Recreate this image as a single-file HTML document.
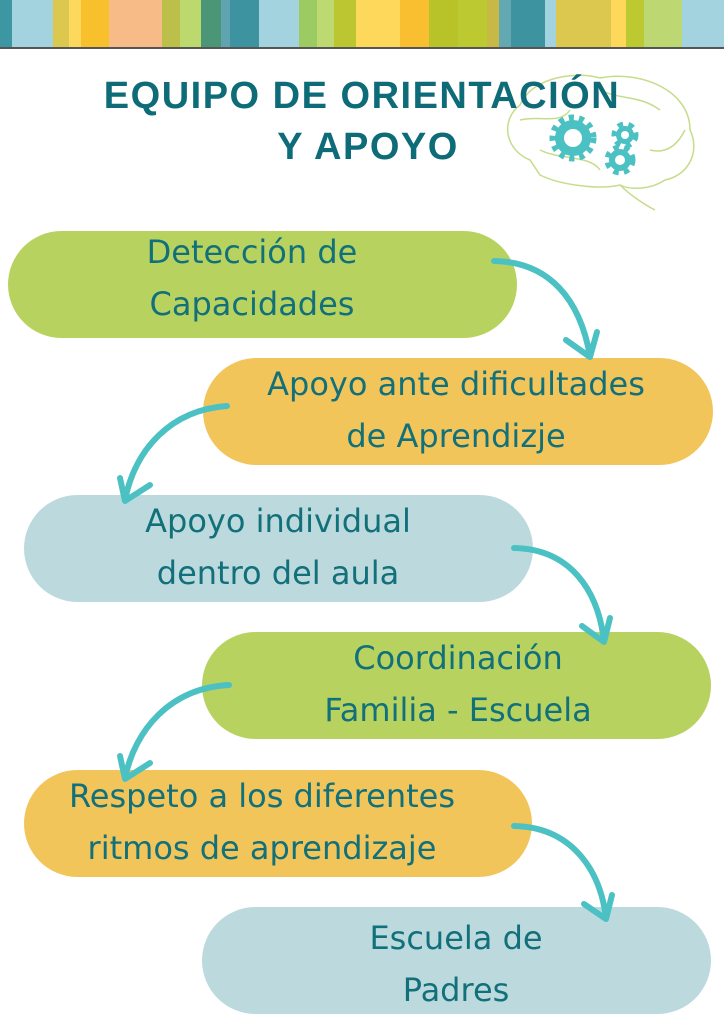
<!DOCTYPE html>
<html><head><meta charset="utf-8"><style>
html,body{margin:0;padding:0;background:#fff;}
body{width:724px;height:1024px;position:relative;overflow:hidden;font-family:"Liberation Sans",sans-serif;}
.pill{position:absolute;height:107px;border-radius:54px;}
.t{position:absolute;color:#12707a;font-size:32px;text-align:center;line-height:52px;font-family:"DejaVu Sans",sans-serif;}
.h{position:absolute;color:#0e6b78;font-weight:bold;font-size:38px;letter-spacing:1.5px;text-align:center;}
</style></head><body>
<svg width="724" height="50" style="position:absolute;left:0;top:0">
<rect x="0" y="0" width="12" height="47" fill="#3d97a3"/>
<rect x="12" y="0" width="41" height="47" fill="#a2d3de"/>
<rect x="53" y="0" width="16" height="47" fill="#dcc84f"/>
<rect x="69" y="0" width="12" height="47" fill="#fcd95c"/>
<rect x="81" y="0" width="28" height="47" fill="#f9c02e"/>
<rect x="109" y="0" width="53" height="47" fill="#f6bb87"/>
<rect x="162" y="0" width="18" height="47" fill="#bcc04a"/>
<rect x="180" y="0" width="21" height="47" fill="#bcd96e"/>
<rect x="201" y="0" width="20" height="47" fill="#4a9676"/>
<rect x="221" y="0" width="9" height="47" fill="#5fa4b0"/>
<rect x="230" y="0" width="29" height="47" fill="#3e93a0"/>
<rect x="259" y="0" width="40" height="47" fill="#a2d3de"/>
<rect x="299" y="0" width="18" height="47" fill="#9bcb62"/>
<rect x="317" y="0" width="17" height="47" fill="#bdda72"/>
<rect x="334" y="0" width="22" height="47" fill="#bcc631"/>
<rect x="356" y="0" width="44" height="47" fill="#fdd85a"/>
<rect x="400" y="0" width="29" height="47" fill="#f9bf30"/>
<rect x="429" y="0" width="29" height="47" fill="#b8c32a"/>
<rect x="458" y="0" width="29" height="47" fill="#bcc931"/>
<rect x="487" y="0" width="12" height="47" fill="#c8b845"/>
<rect x="499" y="0" width="12" height="47" fill="#62a9b2"/>
<rect x="511" y="0" width="34" height="47" fill="#3e93a0"/>
<rect x="545" y="0" width="11" height="47" fill="#a2d3de"/>
<rect x="556" y="0" width="55" height="47" fill="#dcc84f"/>
<rect x="611" y="0" width="15" height="47" fill="#fdd85a"/>
<rect x="626" y="0" width="18" height="47" fill="#bcc931"/>
<rect x="644" y="0" width="38" height="47" fill="#bdd772"/>
<rect x="682" y="0" width="42" height="47" fill="#a2d3de"/>
<rect x="0" y="47" width="724" height="2" fill="#555"/>
</svg>
<svg width="724" height="1024" style="position:absolute;left:0;top:0">
<g fill="none" stroke="#c6dc8a" stroke-width="1.5">
<path d="M530 160 C505 150 500 120 520 105 C530 80 570 70 600 78 C640 70 690 90 690 130 C700 150 690 175 665 180 C650 190 630 190 620 185 C600 190 560 185 540 175 Z"/>
<path d="M620 185 C630 195 645 205 655 210"/>
<path d="M520 120 C540 115 560 125 570 110 M600 90 C620 100 640 95 660 110 M540 150 C560 160 590 155 600 170 M650 150 C670 155 680 140 685 130"/>
</g>
<g fill="#4bc1c4">
<circle cx="573" cy="138" r="18"/><circle cx="625" cy="135" r="9"/><circle cx="620" cy="160" r="11"/>
</g>
<g fill="none" stroke="#4bc1c4" stroke-width="7" stroke-dasharray="5 5"><circle cx="573" cy="138" r="20"/><circle cx="625" cy="135" r="10"/><circle cx="620" cy="160" r="12"/></g>
<g fill="#fff"><circle cx="573" cy="138" r="9"/><circle cx="625" cy="135" r="4"/><circle cx="620" cy="160" r="5"/></g>
</svg>
<div class="h" style="left:0;width:724px;top:75px;">EQUIPO DE ORIENTACIÓN</div>
<div class="h" style="left:0;width:736px;top:126px;">Y APOYO</div>

<div class="pill" style="left:8px;top:231px;width:509px;background:#b8d260"></div>
<div class="pill" style="left:203px;top:358px;width:510px;background:#f2c55a"></div>
<div class="pill" style="left:24px;top:495px;width:509px;background:#bcdadd"></div>
<div class="pill" style="left:202px;top:632px;width:509px;background:#b8d260"></div>
<div class="pill" style="left:24px;top:770px;width:508px;background:#f2c55a"></div>
<div class="pill" style="left:202px;top:907px;width:509px;background:#bcdadd"></div>

<div class="t" style="left:52px;width:400px;top:226px">Detección de<br>Capacidades</div>
<div class="t" style="left:236px;width:440px;top:358px">Apoyo ante dificultades<br>de Aprendizje</div>
<div class="t" style="left:78px;width:400px;top:495px">Apoyo individual<br>dentro del aula</div>
<div class="t" style="left:258px;width:400px;top:632px">Coordinación<br>Familia - Escuela</div>
<div class="t" style="left:42px;width:440px;top:770px">Respeto a los diferentes<br>ritmos de aprendizaje</div>
<div class="t" style="left:256px;width:400px;top:912px">Escuela de<br>Padres</div>

<svg width="724" height="1024" style="position:absolute;left:0;top:0">
<g fill="none" stroke="#4bc1c4" stroke-width="6" stroke-linecap="round" stroke-linejoin="round">
<path d="M494 261 C550 262 580 300 590 356"/><path d="M566 340 L590 357 L597 332"/>
<path d="M227 406 C170 410 135 450 125 500"/><path d="M120 478 L125 501 L150 485"/>
<path d="M514 548 C570 549 598 590 604 641"/><path d="M582 626 L604 642 L610 618"/>
<path d="M229 685 C170 688 135 730 125 778"/><path d="M120 756 L125 779 L150 763"/>
<path d="M514 826 C570 827 600 868 606 918"/><path d="M584 904 L606 919 L612 895"/>
</g></svg>
</body></html>
